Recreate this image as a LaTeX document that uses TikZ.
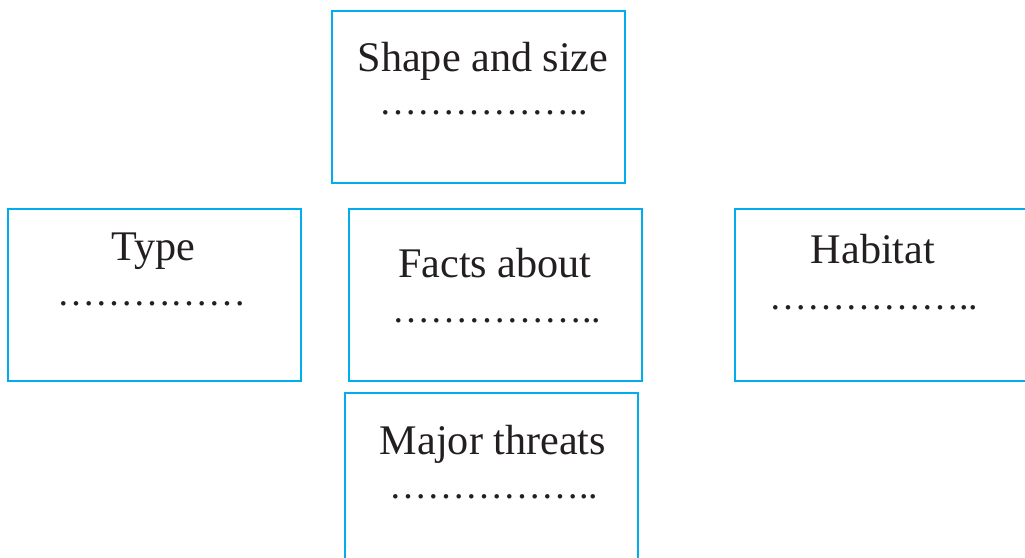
\documentclass[tikz,border=0pt]{standalone}
\usepackage{fontspec}
\setmainfont{Liberation Serif}
\definecolor{boxblue}{RGB}{0,174,239}
\definecolor{inkgrey}{RGB}{35,31,32}
\tikzset{
    infobox/.style={draw=boxblue, line width=1.6pt, minimum width=7.325cm, minimum height=4.3cm, inner sep=0pt},
    boxtitle/.style={anchor=base, text=inkgrey, inner sep=0pt, font=\fontsize{30}{35}\selectfont},
    boxdots/.style={boxtitle, font=\fontsize{27}{32}\selectfont}
}
\begin{document}
\begin{tikzpicture}[x=0.025cm, y=-0.025cm]
        \useasboundingbox (0,0) rectangle (1025,558);
        \clip (0,0) rectangle (1025,558);

        % boxes
        \node[infobox] (shape)   at (478.5,97)  {};
        \node[infobox] (type)    at (154.5,295) {};
        \node[infobox] (facts)   at (495.5,295) {};
        \node[infobox] (habitat) at (881.5,295) {};
        \node[infobox] (threats) at (491.5,479) {};

        % titles
        \node[boxtitle] (shapetitle)   at (483,72)  {Shape and size};
        \node[boxtitle] (typetitle)    at (153,260) {Type};
        \node[boxtitle] (factstitle)   at (495,277) {Facts about};
        \node[boxtitle] (habitattitle) at (873,263) {Habitat};
        \node[boxtitle] (threatstitle) at (493,454) {Major threats};

        % blanks
        \node[boxdots] (shapedots)   at (484,114) {……………..};
        \node[boxdots] (typedots)    at (152,305) {……………};
        \node[boxdots] (factsdots)   at (497,322) {……………..};
        \node[boxdots] (habitatdots) at (874,309) {……………..};
        \node[boxdots] (threatsdots) at (494,498) {……………..};
\end{tikzpicture}
\end{document}
